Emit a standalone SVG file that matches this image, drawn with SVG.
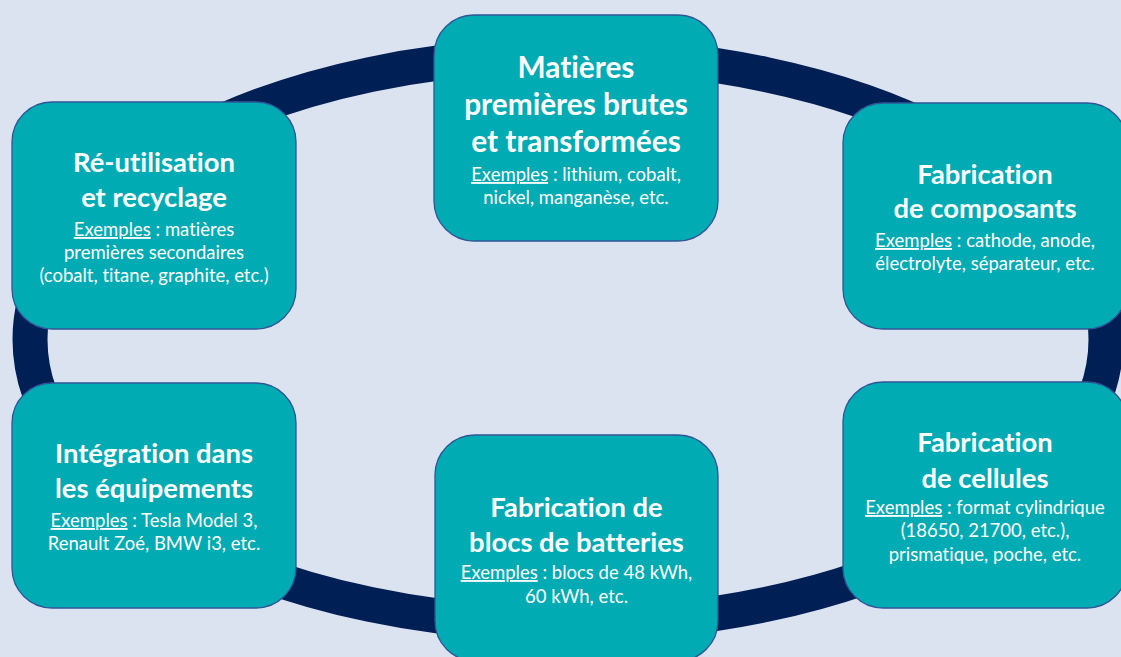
<svg xmlns="http://www.w3.org/2000/svg" width="1121" height="657" viewBox="0 0 1121 657">
  <style>
    .bg { fill: #dbe3f0; }
    .ring { fill: none; stroke: #001f55; stroke-width: 35; }
    .box { fill: #00abb3; stroke: #2f5597; stroke-width: 1.3; }
    text { font-family: Lato, "Liberation Sans", sans-serif; fill: #ffffff; text-anchor: middle; font-variant-ligatures: none; }
    .title { font-weight: 700; font-size: 27.4px; }
    .title.big { font-size: 29.8px; }
    .body { font-weight: 400; font-size: 18.5px; }
    .u { text-decoration: underline; }
  </style>

  <rect class="bg" x="0" y="0" width="1121" height="657"/>

  <!-- cycle ring linking the stages -->
  <g id="connectors">
    <ellipse class="ring" cx="568" cy="339.5" rx="538" ry="285"/>
  </g>

  <!-- stage: raw and processed materials -->
  <g id="node-matieres">
    <rect class="box" x="434" y="15" width="284" height="226" rx="40" ry="40"/>
    <text class="title big" x="576" y="78">Matières</text>
    <text class="title big" x="576" y="115">premières brutes</text>
    <text class="title big" x="576" y="152">et transformées</text>
    <text class="body" x="576" y="181"><tspan class="u">Exemples</tspan> : lithium, cobalt,</text>
    <text class="body" x="576" y="204">nickel, manganèse, etc.</text>
  </g>

  <!-- stage: component manufacturing -->
  <g id="node-composants">
    <rect class="box" x="843" y="103" width="284" height="226" rx="40" ry="40"/>
    <text class="title" x="985" y="184">Fabrication</text>
    <text class="title" x="985" y="218">de composants</text>
    <text class="body" x="985" y="247"><tspan class="u">Exemples</tspan> : cathode, anode,</text>
    <text class="body" x="985" y="270">électrolyte, séparateur, etc.</text>
  </g>

  <!-- stage: cell manufacturing -->
  <g id="node-cellules">
    <rect class="box" x="843" y="382" width="284" height="226" rx="40" ry="40"/>
    <text class="title" x="985" y="452">Fabrication</text>
    <text class="title" x="985" y="488">de cellules</text>
    <text class="body" x="985" y="514"><tspan class="u">Exemples</tspan> : format cylindrique</text>
    <text class="body" x="985" y="537">(18650, 21700, etc.),</text>
    <text class="body" x="985" y="561">prismatique, poche, etc.</text>
  </g>

  <!-- stage: battery pack manufacturing -->
  <g id="node-blocs">
    <rect class="box" x="435" y="435" width="283" height="226" rx="40" ry="40"/>
    <text class="title" x="576.5" y="517">Fabrication de</text>
    <text class="title" x="576.5" y="552">blocs de batteries</text>
    <text class="body" x="576.5" y="579"><tspan class="u">Exemples</tspan> : blocs de 48 kWh,</text>
    <text class="body" x="576.5" y="603">60 kWh, etc.</text>
  </g>

  <!-- stage: integration into equipment -->
  <g id="node-integration">
    <rect class="box" x="12" y="383" width="284" height="225" rx="40" ry="40"/>
    <text class="title" x="154" y="463">Intégration dans</text>
    <text class="title" x="154" y="498">les équipements</text>
    <text class="body" x="154" y="527"><tspan class="u">Exemples</tspan> : Tesla Model 3,</text>
    <text class="body" x="154" y="550">Renault Zoé, BMW i3, etc.</text>
  </g>

  <!-- stage: reuse and recycling -->
  <g id="node-recyclage">
    <rect class="box" x="12" y="102" width="284" height="227" rx="40" ry="40"/>
    <text class="title" x="154" y="172">Ré-utilisation</text>
    <text class="title" x="154" y="207">et recyclage</text>
    <text class="body" x="154" y="236"><tspan class="u">Exemples</tspan> : matières</text>
    <text class="body" x="154" y="259">premières secondaires</text>
    <text class="body" x="154" y="282">(cobalt, titane, graphite, etc.)</text>
  </g>
</svg>
